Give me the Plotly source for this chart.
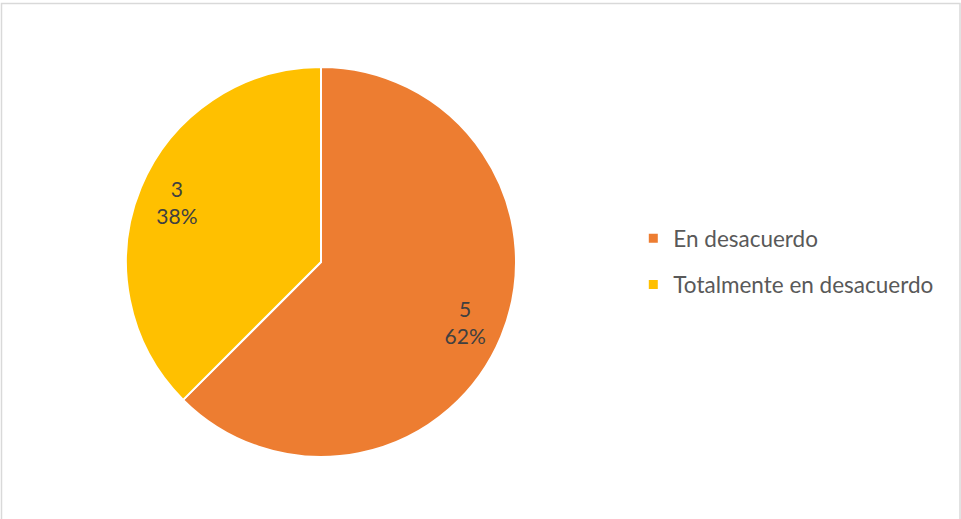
import plotly.graph_objects as go

categories = ["En desacuerdo", "Totalmente en desacuerdo"]
values = [5, 3]
pct_labels = ["62%", "38%"]
colors = ["#ED7D31", "#FFC000"]

W, H = 961, 519
cx, cy, r = 321, 262, 195
dom = dict(x=[(cx - r) / W, (cx + r) / W],
           y=[(H - cy - r) / H, (H - cy + r) / H])

fig = go.Figure()
# coloured slices
fig.add_trace(go.Pie(
    labels=categories, values=values, textinfo="none",
    marker=dict(colors=colors, line=dict(color="white", width=2)),
    sort=False, direction="clockwise", rotation=0,
    showlegend=False, hoverinfo="label+value+percent", domain=dom,
))
# data labels placed in the outer ring of the same slices
fig.add_trace(go.Pie(
    labels=categories, values=values, text=pct_labels, hole=0.6,
    texttemplate="%{value}<br>%{text}", textposition="inside",
    insidetextorientation="horizontal",
    marker=dict(colors=["rgba(0,0,0,0)"] * len(values), line=dict(width=0)),
    sort=False, direction="clockwise", rotation=0,
    textfont=dict(family="Lato", size=21, color="#404040"),
    showlegend=False, hoverinfo="skip", domain=dom,
))
for name, col in zip(categories, colors):
    fig.add_trace(go.Scatter(
        x=[None], y=[None], mode="markers", name=name,
        marker=dict(symbol="square", size=9, color=col),
        legendgroup=name, showlegend=True,
    ))

fig.update_layout(
    width=W, height=H, margin=dict(l=0, r=0, t=0, b=0),
    paper_bgcolor="white", plot_bgcolor="white",
    xaxis=dict(visible=False), yaxis=dict(visible=False),
    legend=dict(x=0.659, y=0.496, xanchor="left", yanchor="middle",
                font=dict(family="Lato", size=22.5, color="#595959"),
                tracegroupgap=14, itemwidth=30, bgcolor="rgba(0,0,0,0)"),
    shapes=[dict(type="rect", xref="paper", yref="paper",
                 x0=1.5 / W, x1=(W - 1) / W, y0=-0.01, y1=(H - 3.5) / H,
                 line=dict(color="#D9D9D9", width=1.5))],
)
fig.write_html("out.html")
